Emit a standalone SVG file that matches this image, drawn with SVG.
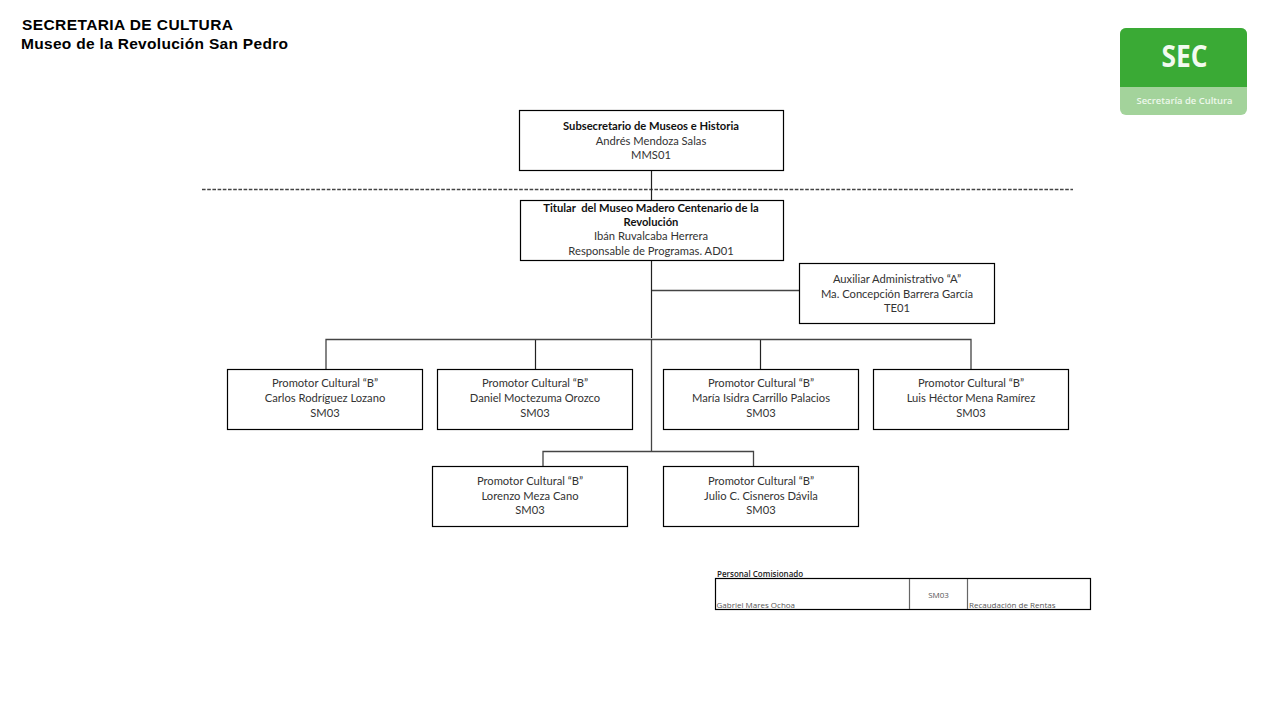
<svg xmlns="http://www.w3.org/2000/svg" width="1280" height="720" viewBox="0 0 1280 720">
<style>
.box{fill:#fff;stroke:#000;stroke-width:1.2}
.c{fill:none;stroke:#222;stroke-width:1.2}
.g{fill:none;stroke:#444;stroke-width:1.3}
text{font-family:"Lato","Open Sans",sans-serif;font-size:11.2px;fill:#333;text-anchor:middle;white-space:pre}
.b{font-weight:700;fill:#111}
.h{font-family:"Liberation Sans",Arial,sans-serif;font-weight:700;font-size:15.5px;text-anchor:start;fill:#000}
.s{font-family:"Open Sans",sans-serif;font-size:8px;text-anchor:start;fill:#555}
</style>
<rect width="1280" height="720" fill="#fff"/>
<text class="h" x="22" y="30" textLength="211" lengthAdjust="spacing">SECRETARIA DE CULTURA</text>
<text class="h" x="21" y="49" textLength="267" lengthAdjust="spacing">Museo de la Revolución San Pedro</text>
<g id="logo">
<rect x="1120" y="28" width="127" height="87" rx="6" fill="#a3d39b"/>
<path d="M1120 87V34a6 6 0 0 1 6-6h115a6 6 0 0 1 6 6v53z" fill="#3aaa35"/>
<text x="1184.500" y="67" textLength="46" lengthAdjust="spacingAndGlyphs" style="font-family:'Open Sans',sans-serif;font-size:30px;font-weight:700;fill:#f2faf0">SEC</text>
<text x="1184.500" y="104" textLength="96" lengthAdjust="spacingAndGlyphs" style="font-family:'Open Sans',sans-serif;font-size:9.500px;font-weight:600;fill:#eef8ec">Secretaría de Cultura</text>
</g>
<g id="connectors">
<path class="g" stroke-dasharray="3.600 1.600" d="M202 189.500H1073"/>
<path class="c" d="M651.500 170V200M651.500 260V338M535.500 340V369M760.500 340V369"/>
<path class="g" d="M652 290.500H799M326 369V339.500H971V369M651.500 340V452M543 466V451.500H753.500V466"/>
</g>
<g id="n1"><rect class="box" x="519.500" y="110.500" width="264" height="60"/><text class="b" x="651" y="130">Subsecretario de Museos e Historia</text><text x="651" y="145">Andrés Mendoza Salas</text><text x="651" y="159">MMS01</text></g>
<g id="n2"><rect class="box" x="520.500" y="200.500" width="263" height="60"/><text class="b" x="651" y="212">Titular  del Museo Madero Centenario de la</text><text class="b" x="651" y="226">Revolución</text><text x="651" y="240">Ibán Ruvalcaba Herrera</text><text x="651" y="255">Responsable de Programas. AD01</text></g>
<g id="n3"><rect class="box" x="799.500" y="263.500" width="195" height="60"/><text x="897" y="283">Auxiliar Administrativo “A”</text><text x="897" y="298">Ma. Concepción Barrera García</text><text x="897" y="312">TE01</text></g>
<g id="n4"><rect class="box" x="227.500" y="369.500" width="195" height="60"/><text x="325" y="387">Promotor Cultural “B”</text><text x="325" y="402">Carlos Rodríguez Lozano</text><text x="325" y="417">SM03</text></g>
<g id="n5"><rect class="box" x="437.500" y="369.500" width="195" height="60"/><text x="535" y="387">Promotor Cultural “B”</text><text x="535" y="402">Daniel Moctezuma Orozco</text><text x="535" y="417">SM03</text></g>
<g id="n6"><rect class="box" x="663.500" y="369.500" width="195" height="60"/><text x="761" y="387">Promotor Cultural “B”</text><text x="761" y="402">María Isidra Carrillo Palacios</text><text x="761" y="417">SM03</text></g>
<g id="n7"><rect class="box" x="873.500" y="369.500" width="195" height="60"/><text x="971" y="387">Promotor Cultural “B”</text><text x="971" y="402">Luis Héctor Mena Ramírez</text><text x="971" y="417">SM03</text></g>
<g id="n8"><rect class="box" x="432.500" y="466.500" width="195" height="60"/><text x="530" y="485">Promotor Cultural “B”</text><text x="530" y="500">Lorenzo Meza Cano</text><text x="530" y="514">SM03</text></g>
<g id="n9"><rect class="box" x="663.500" y="466.500" width="195" height="60"/><text x="761" y="485">Promotor Cultural “B”</text><text x="761" y="500">Julio C. Cisneros Dávila</text><text x="761" y="514">SM03</text></g>
<g id="table">
<text class="s" x="717" y="577" style="font-weight:600;fill:#222">Personal Comisionado</text>
<rect class="box" x="715.500" y="578.500" width="375" height="31"/>
<path d="M909.500 579V609M967.500 579V609" stroke="#666" stroke-width="1.200" fill="none"/>
<text class="s" x="716.500" y="608">Gabriel Mares Ochoa</text>
<text class="s" x="938.500" y="598" style="text-anchor:middle">SM03</text>
<text class="s" x="969" y="608">Recaudación de Rentas</text>
</g>
</svg>
